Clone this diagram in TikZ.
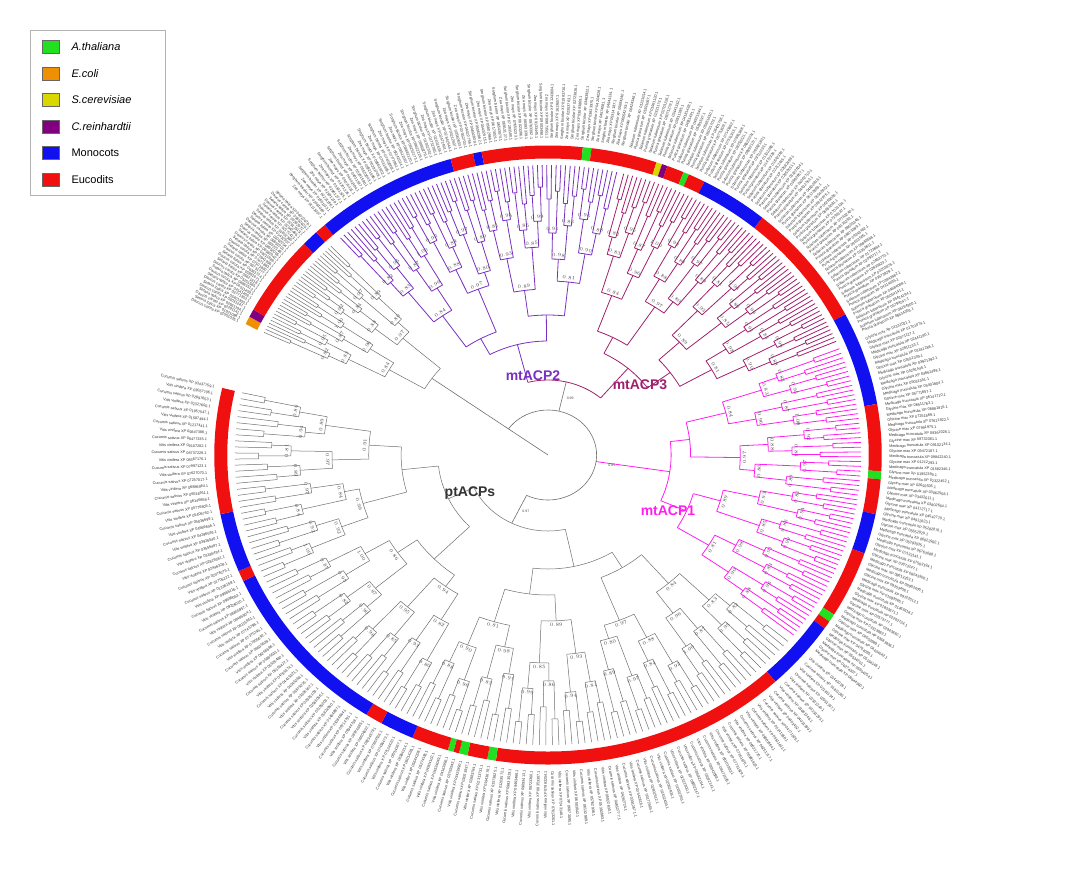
\documentclass[tikz,border=0pt]{standalone}
\usepackage{fontspec}
\setmainfont{Liberation Sans}
\definecolor{cMono}{HTML}{1010F0}
\definecolor{cEu}{HTML}{F01010}
\definecolor{cAt}{HTML}{20E020}
\definecolor{cEc}{HTML}{F09000}
\definecolor{cSc}{HTML}{D8D800}
\definecolor{cCr}{HTML}{800080}
\definecolor{cmt2}{HTML}{7A30C0}
\definecolor{cmt3}{HTML}{A0206E}
\definecolor{cmt1}{HTML}{FF20F0}
\definecolor{cpt}{HTML}{707070}
\tikzset{
  declare function={rr(\k,\j)=290-30*\k+mod(\j*7+\k*3,5)*4-8;},
  lab/.style={font=\fontsize{3.8}{3.8}\selectfont, inner sep=0pt, text=black!80},
  boot/.style={font=\fontsize{3.5}{3.5}\selectfont, inner sep=0.3pt, text=black!70},
  clab/.style={font=\bfseries\fontsize{14}{14}\selectfont},
  legtxt/.style={font=\fontsize{11}{11}\selectfont, anchor=west},
  legbox/.style={draw=black!60, minimum width=17pt, minimum height=13pt, inner sep=0pt},
}
\newcommand\spname[1]{\ifcase#1 Oryza sativa\or Zea mays\or Solanum tuberosum\or Glycine max\or Vitis vinifera\or Daucus carota\or Eucalyptus grandis\or Populus trichocarpa\or Sorghum bicolor\or Punica granatum\or Medicago truncatula\or Cucumis sativus\or Setaria italica\else Brachypodium distachyon\fi}
% #1 start angle, #2 step, #3 levels, #4 style, #5 id
\newcommand\clade[5]{%
  \pgfmathtruncatemacro\nl{2^#3-1}
  \foreach \i in {0,...,\nl}{
    \pgfmathsetmacro\ang{#1+#2*\i}
    \pgfmathsetmacro\ri{rr(1,floor(\i/2))}
    \draw[#4] (\ang:\ri pt) -- (\ang:290pt);
    \pgfmathtruncatemacro\sn{mod(\i*7+#5,14)}
    \pgfmathtruncatemacro\ac{mod(\i*37+#5*11,900)+100}
    \pgfmathtruncatemacro\bc{mod(\i*53+#5*7,9000)+1000}
    \pgfmathtruncatemacro\lft{cos(\ang)<0}
    \ifnum\lft=1
      \node[lab, rotate=\ang+180, anchor=east] (L#5-\i) at (\ang:316pt) {\spname{\sn} XP 0\ac\bc.1};
    \else
      \node[lab, rotate=\ang, anchor=west] (L#5-\i) at (\ang:316pt) {\spname{\sn} XP 0\ac\bc.1};
    \fi
  }
  \foreach \k in {1,...,#3}{
    \pgfmathtruncatemacro\gs{2^\k}
    \pgfmathtruncatemacro\ng{2^(#3-\k)-1}
    \foreach \j in {0,...,\ng}{
      \pgfmathsetmacro\st{\j*\gs}
      \pgfmathsetmacro\ma{#1+#2*(\st+(\gs/2-1)/2)}
      \pgfmathsetmacro\mb{#1+#2*(\st+\gs/2+(\gs/2-1)/2)}
      \pgfmathsetmacro\mm{#1+#2*(\st+(\gs-1)/2)}
      \pgfmathsetmacro\rad{rr(\k,\j)}
      \draw[#4] (\ma:\rad pt) arc[start angle=\ma, end angle=\mb, radius=\rad pt];
      \ifnum\k<#3
        \pgfmathsetmacro\rp{rr(\k+1,floor(\j/2))}
        \draw[#4] (\mm:\rp pt) -- (\mm:\rad pt);
      \fi
      \ifnum\k>1 \ifnum\k<5
        \pgfmathsetmacro\bv{0.80+mod(\j*13+\k,21)/100}
        \pgfmathsetmacro\rot{sin(\mm)>=0 ? \mm-90 : \mm+90}
        \node[boot, rotate=\rot] (B#5-\k-\j) at (\mm:\rad pt+4pt) {\pgfmathprintnumber[fixed,precision=2,fixed zerofill]{\bv}};
      \fi\fi
    }
  }
}
\begin{document}
\begin{tikzpicture}[x=1pt,y=1pt]
\useasboundingbox[fill=white] (0,0) rectangle (1068,-895);
\begin{scope}[shift={(548,-455)}, xscale=1.08]
  % colour ring
  \foreach \s/\e/\c in {155/153.5/cEc,153.5/152/cCr,152/137/cEu,137/134/cMono,134/132/cEu,132/107/cMono,107/103/cEu,103/101.5/cMono,101.5/84/cEu,84/82.5/cAt,82.5/71/cEu,71/70/cSc,70/69/cCr,69/66/cEu,66/65/cAt,65/62/cEu,62/50/cMono,50/27/cEu,27/9.5/cMono,9.5/-3/cEu,-3/-4.5/cAt,-4.5/-11/cEu,-11/-18.5/cMono,-18.5/-31/cEu,-31/-32.5/cAt,-32.5/-34/cEu,-34/-47/cMono,-47/-99/cEu,-99/-100.5/cAt,-100.5/-104/cEu,-104/-105.5/cAt,-105.5/-106.5/cEu,-106.5/-107.5/cAt,-107.5/-114/cEu,-114/-120/cMono,-120/-123/cEu,-123/-156/cMono,-156/-158/cEu,-158/-169/cMono,-169/-192.5/cEu}{
    \draw[line width=13pt, \c] (\s:303pt) arc[start angle=\s, end angle=\e, radius=303pt];
  }
  \clade{131.5}{-0.86}{6}{cmt2, line width=0.8pt}{1}
  \clade{76}{-0.84}{6}{cmt3, line width=0.8pt}{2}
  \clade{21.5}{-0.95}{6}{cmt1, line width=0.8pt}{3}
  \clade{-40}{-1.2}{7}{cpt, line width=0.5pt}{4}
  \clade{155}{-0.68}{5}{cpt, line width=0.5pt}{5}
  % backbone
  \draw[cmt3, line width=0.8pt] (104.4:75pt) arc[start angle=104.4, end angle=49.5, radius=75pt];
  \draw[cmt2, line width=0.8pt] (104.4:75pt) -- (104.4:114pt);
  \draw[cmt3, line width=0.8pt] (49.5:75pt) -- (49.5:114pt);
  \draw[cpt, line width=0.6pt] (77:45pt) -- (77:75pt);
  \draw[cmt1, line width=0.8pt] (-8.4:45pt) -- (-8.4:114pt);
  \draw[cpt, line width=0.6pt] (-116.2:45pt) -- (-116.2:76pt);
  \draw[cpt, line width=0.6pt] (144.5:0pt) -- (144.5:132pt);
  \draw[cpt, line width=0.6pt] (144.5:45pt) arc[start angle=144.5, end angle=-116.2, radius=45pt];
  \node[boot] (b0) at (70:60pt) {0.99};
  \node[boot] (b1) at (-10:60pt) {0.85};
  \node[boot] (b2) at (-110:60pt) {0.97};
\end{scope}
% clade labels
\node[clab, cmt2] (n2) at (533,-376) {mtACP2};
\node[clab, cmt3] (n3) at (640,-385) {mtACP3};
\node[clab, cmt1] (n1) at (668,-511) {mtACP1};
\node[clab, black!80] (np) at (470,-493) {ptACPs};
% legend
\node[draw=black!30, fill=white, minimum width=135pt, minimum height=165pt, anchor=north west] (leg) at (30,-30) {};
\foreach \y/\c/\t [count=\n] in {-47/cAt/\textit{A.thaliana},-74/cEc/\textit{E.coli},-100/cSc/\textit{S.cerevisiae},-127/cCr/\textit{C.reinhardtii},-153/cMono/Monocots,-180/cEu/Eucodits}{
  \node[legbox, fill=\c] (s\n) at (51,\y) {};
  \node[legtxt] (t\n) at (68,\y) {\t};
}
\end{tikzpicture}
\end{document}
